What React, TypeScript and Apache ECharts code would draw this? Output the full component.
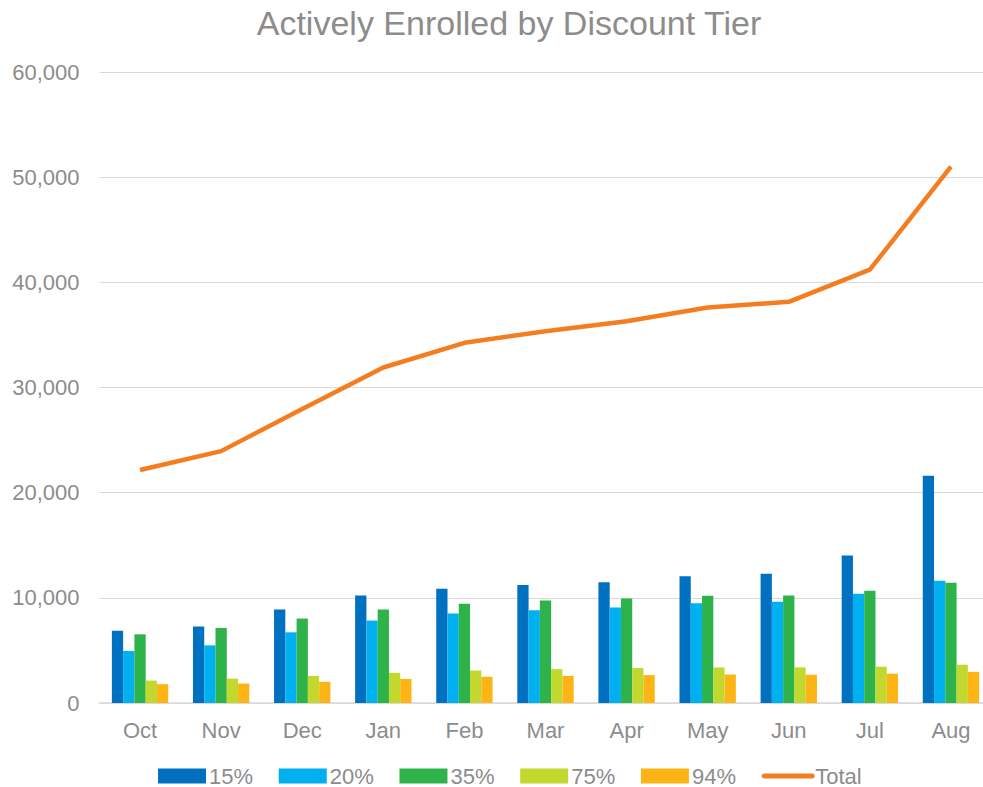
import React, { useEffect, useRef } from "react";
import * as echarts from "echarts";

const months = ["Oct", "Nov", "Dec", "Jan", "Feb", "Mar", "Apr", "May", "Jun", "Jul", "Aug"];
const tier15 = [6880, 7270, 8890, 10230, 10870, 11210, 11470, 12050, 12280, 14030, 21600];
const tier20 = [4940, 5480, 6720, 7840, 8510, 8820, 9080, 9490, 9630, 10380, 11630];
const tier35 = [6530, 7140, 8030, 8890, 9440, 9750, 9940, 10200, 10230, 10670, 11440];
const tier75 = [2130, 2320, 2580, 2870, 3090, 3220, 3320, 3380, 3390, 3450, 3640];
const tier94 = [1790, 1850, 2010, 2290, 2490, 2580, 2650, 2710, 2690, 2790, 2960];
const total = [22150, 23950, 27950, 31900, 34250, 35350, 36300, 37600, 38150, 41200, 51000];

const barSeries = [
  { name: "15%", data: tier15, color: "#0070C0" },
  { name: "20%", data: tier20, color: "#00B0F0" },
  { name: "35%", data: tier35, color: "#2DB34A" },
  { name: "75%", data: tier75, color: "#C2D82E" },
  { name: "94%", data: tier94, color: "#FDB515" },
];

export default function App() {
  const ref = useRef<HTMLDivElement>(null);
  useEffect(() => {
    if (!ref.current) return;
    const chart = echarts.init(ref.current, null, { renderer: "svg" });
    const font = "Liberation Sans, Arial, sans-serif";
    chart.setOption({
      animation: false,
      textStyle: { fontFamily: font },
      title: {
        text: "Actively Enrolled by Discount Tier",
        left: 504,
        textAlign: "center",
        top: 1,
        textStyle: { fontFamily: font, fontSize: 34, fontWeight: "normal", color: "#8C8C8C" },
      },
      legend: {
        left: 153,
        top: 760,
        itemWidth: 48,
        itemHeight: 15,
        itemGap: 25.7,
        textStyle: { fontFamily: font, fontSize: 22, color: "#8C8C8C", padding: [0, 0, 0, -2] },
        data: [
          { name: "15%", icon: "rect" },
          { name: "20%", icon: "rect" },
          { name: "35%", icon: "rect" },
          { name: "75%", icon: "rect" },
          { name: "94%", icon: "rect" },
          { name: "Total", itemStyle: { opacity: 0 }, lineStyle: { width: 5, cap: "round" } },
        ],
      },
      grid: { left: 99.5, width: 892, top: 72, bottom: 84, outerBoundsMode: "none", containLabel: false },
      xAxis: {
        type: "category",
        data: months,
        axisLine: { lineStyle: { color: "#D9D9D9", width: 1.5 } },
        axisTick: { show: false },
        axisLabel: { fontFamily: font, fontSize: 22, color: "#8C8C8C", margin: 16 },
      },
      yAxis: {
        type: "value",
        min: 0,
        max: 60000,
        interval: 10000,
        axisLine: { show: false },
        axisTick: { show: false },
        splitLine: { lineStyle: { color: "#D9D9D9", width: 1.2 } },
        axisLabel: {
          fontFamily: font,
          fontSize: 22,
          color: "#8C8C8C",
          margin: 20,
          formatter: (v: number) => v.toLocaleString("en-US"),
        },
      },
      series: [
        ...barSeries.map((s) => ({
          name: s.name,
          type: "bar",
          data: s.data,
          barGap: "0%",
          barCategoryGap: "30.5%",
          itemStyle: { color: s.color },
        })),
        {
          name: "Total",
          type: "line",
          data: total,
          symbol: "none",
          lineStyle: { color: "#F47D20", width: 4.5 },
          itemStyle: { color: "#F47D20" },
        },
      ],
    });
    return () => chart.dispose();
  }, []);
  return (
    <div
      ref={ref}
      style={{ position: "absolute", left: 0, top: 0, width: 983, height: 787, background: "#fff" }}
    />
  );
}
